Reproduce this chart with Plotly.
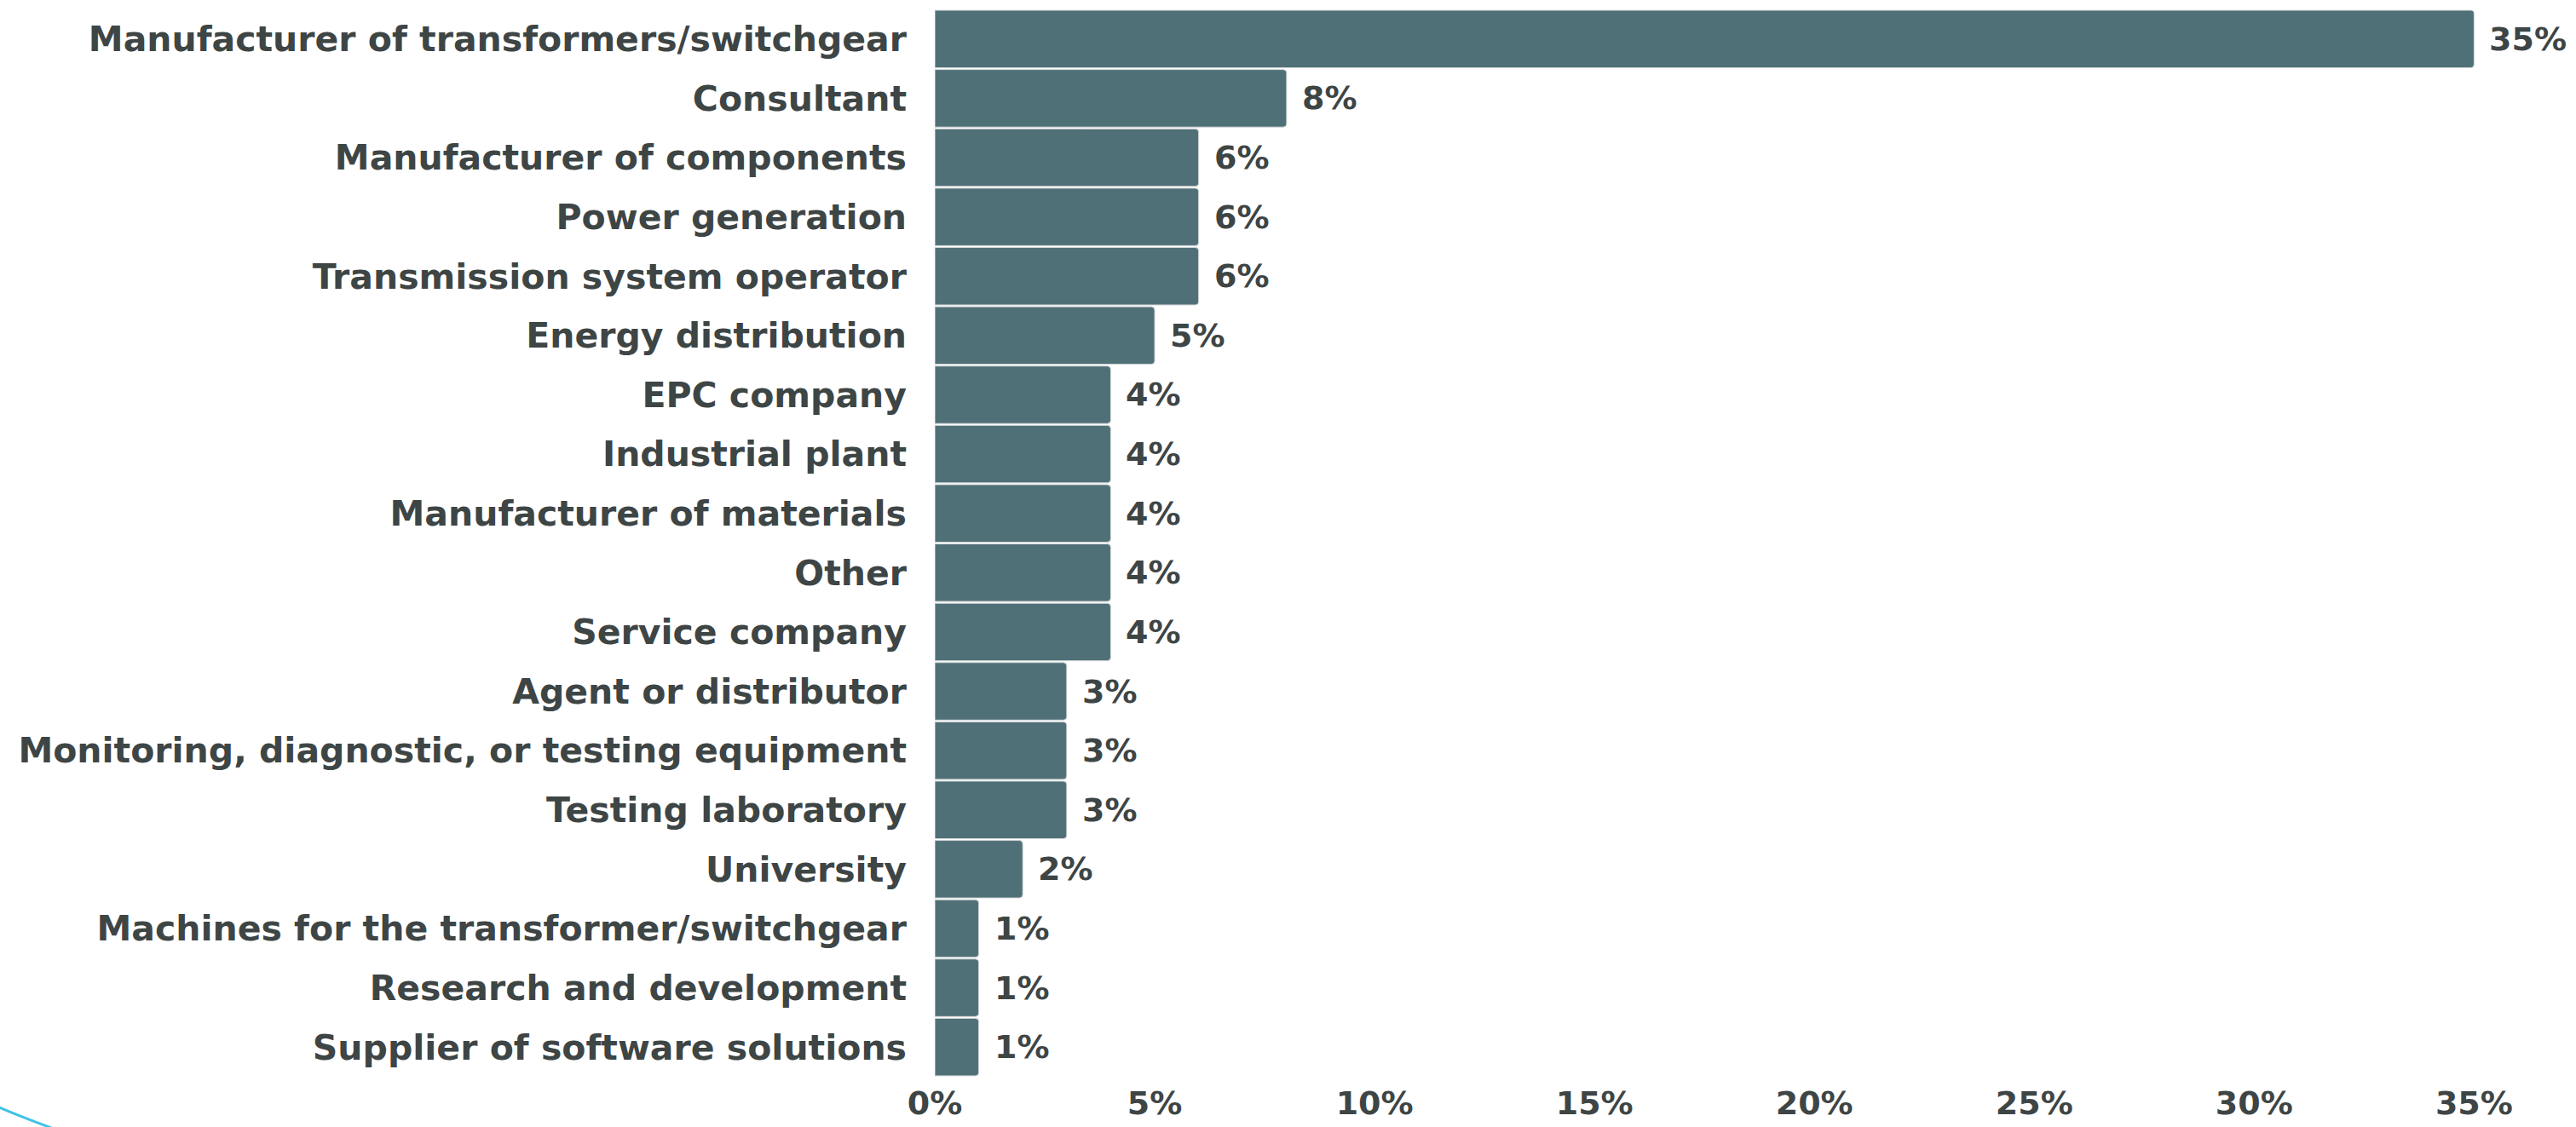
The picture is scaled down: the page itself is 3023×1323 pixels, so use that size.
import plotly.graph_objects as go

# Respondent profile: share of participants by organisation type
categories = [
    "Manufacturer of transformers/switchgear",
    "Consultant",
    "Manufacturer of components",
    "Power generation",
    "Transmission system operator",
    "Energy distribution",
    "EPC company",
    "Industrial plant",
    "Manufacturer of materials",
    "Other",
    "Service company",
    "Agent or distributor",
    "Monitoring, diagnostic, or testing equipment",
    "Testing laboratory",
    "University",
    "Machines for the transformer/switchgear",
    "Research and development",
    "Supplier of software solutions",
]
shares = [35, 8, 6, 6, 6, 5, 4, 4, 4, 4, 4, 3, 3, 3, 2, 1, 1, 1]
tick_values = [0, 5, 10, 15, 20, 25, 30, 35]
tick_labels = ["0%", "5%", "10%", "15%", "20%", "25%", "30%", "35%"]

BAR = "#507078"
TEXT = "#3e4545"
FONT = "DejaVu Sans"
SIZE = 38
CAT_SIZE = 41

fig = go.Figure()
fig.add_trace(go.Bar(
    y=categories,
    x=shares,
    orientation="h",
    marker=dict(color=BAR, line=dict(color="#d4d8d9", width=1), cornerradius=4),
    hoverinfo="skip",
))

# value labels just past the end of each bar
for cat, val in zip(categories, shares):
    fig.add_annotation(
        x=val, y=cat, text=f"{val}%", showarrow=False,
        xanchor="left", yanchor="middle", xshift=16,
        font=dict(family=FONT, size=SIZE, color=TEXT, weight=700),
    )

# decorative accent swoosh in the lower-left corner
fig.add_shape(
    type="path", xref="paper", yref="paper",
    path="M -0.592,-0.028 Q -0.578,-0.037 -0.556,-0.049",
    line=dict(color="#3fc3e6", width=3),
)

fig.update_layout(
    width=3023, height=1323,
    margin=dict(l=1097, r=68, t=11, b=59, autoexpand=False),
    plot_bgcolor="white", paper_bgcolor="white",
    bargap=0.03,
    showlegend=False,
    font=dict(family=FONT, color=TEXT),
)
fig.update_xaxes(
    range=[0, 36], tickvals=tick_values, ticktext=tick_labels,
    showgrid=False, zeroline=False, showline=False, automargin=False,
    tickfont=dict(family=FONT, size=SIZE, color=TEXT, weight=700),
    ticklabelstandoff=5,
)
fig.update_yaxes(
    autorange="reversed", showgrid=False, showline=False, automargin=False,
    tickfont=dict(family=FONT, size=CAT_SIZE, color=TEXT, weight=700),
    ticklabelstandoff=32,
)

fig.write_html("out.html")
